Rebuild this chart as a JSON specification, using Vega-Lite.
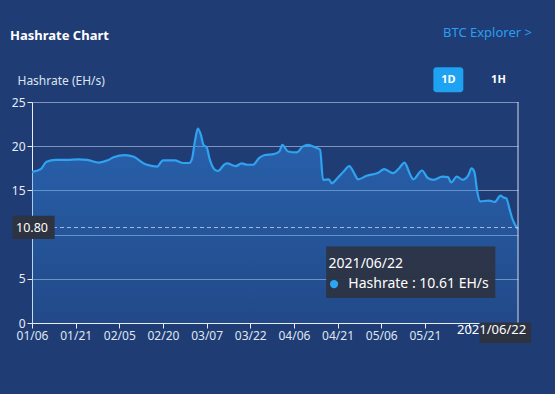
{
  "$schema": "https://vega.github.io/schema/vega-lite/v6.json",
  "autosize": {"type": "none"},
  "width": 486,
  "height": 221,
  "padding": {"left": 32, "top": 102, "right": 37, "bottom": 71},
  "background": "#1f3c75",
  "config": {
    "font": "Noto Sans",
    "view": {"stroke": null}
  },
  "title": {
    "text": "Hashrate Chart",
    "anchor": "start",
    "frame": "group",
    "dx": -22,
    "offset": -16,
    "fontSize": 13,
    "fontWeight": "bold",
    "color": "#ffffff"
  },
  "datasets": {
    "hashrate": [
      {"date": "2021-01-06", "value": 17.1},
      {"date": "2021-01-09", "value": 17.4},
      {"date": "2021-01-11", "value": 18.25},
      {"date": "2021-01-14", "value": 18.45},
      {"date": "2021-01-18", "value": 18.45},
      {"date": "2021-01-22", "value": 18.5},
      {"date": "2021-01-25", "value": 18.45},
      {"date": "2021-01-29", "value": 18.15},
      {"date": "2021-02-01", "value": 18.4},
      {"date": "2021-02-03", "value": 18.75},
      {"date": "2021-02-07", "value": 19.0},
      {"date": "2021-02-10", "value": 18.8},
      {"date": "2021-02-14", "value": 17.95},
      {"date": "2021-02-18", "value": 17.7},
      {"date": "2021-02-20", "value": 18.4},
      {"date": "2021-02-24", "value": 18.4},
      {"date": "2021-02-27", "value": 18.1},
      {"date": "2021-03-01", "value": 18.1},
      {"date": "2021-03-02", "value": 18.6},
      {"date": "2021-03-03", "value": 20.6},
      {"date": "2021-03-04", "value": 22.0},
      {"date": "2021-03-05", "value": 21.3},
      {"date": "2021-03-06", "value": 20.1},
      {"date": "2021-03-07", "value": 19.9},
      {"date": "2021-03-08", "value": 18.6},
      {"date": "2021-03-10", "value": 17.3},
      {"date": "2021-03-11", "value": 17.2},
      {"date": "2021-03-13", "value": 17.9},
      {"date": "2021-03-14", "value": 18.05},
      {"date": "2021-03-17", "value": 17.75},
      {"date": "2021-03-19", "value": 18.05},
      {"date": "2021-03-21", "value": 17.9},
      {"date": "2021-03-23", "value": 17.9},
      {"date": "2021-03-25", "value": 18.65},
      {"date": "2021-03-27", "value": 19.0},
      {"date": "2021-03-30", "value": 19.1},
      {"date": "2021-04-01", "value": 19.4},
      {"date": "2021-04-02", "value": 20.15},
      {"date": "2021-04-04", "value": 19.4},
      {"date": "2021-04-07", "value": 19.3},
      {"date": "2021-04-09", "value": 19.95},
      {"date": "2021-04-11", "value": 20.15},
      {"date": "2021-04-13", "value": 19.9},
      {"date": "2021-04-15", "value": 19.6},
      {"date": "2021-04-16", "value": 16.2},
      {"date": "2021-04-18", "value": 16.25},
      {"date": "2021-04-19", "value": 15.8},
      {"date": "2021-04-21", "value": 16.4},
      {"date": "2021-04-23", "value": 17.1},
      {"date": "2021-04-25", "value": 17.75},
      {"date": "2021-04-27", "value": 16.75},
      {"date": "2021-04-28", "value": 16.25},
      {"date": "2021-05-01", "value": 16.65},
      {"date": "2021-05-05", "value": 17.0},
      {"date": "2021-05-07", "value": 17.4},
      {"date": "2021-05-10", "value": 16.95},
      {"date": "2021-05-12", "value": 17.45},
      {"date": "2021-05-14", "value": 18.15},
      {"date": "2021-05-16", "value": 16.75},
      {"date": "2021-05-17", "value": 16.25},
      {"date": "2021-05-20", "value": 17.25},
      {"date": "2021-05-22", "value": 16.4},
      {"date": "2021-05-24", "value": 16.2},
      {"date": "2021-05-27", "value": 16.55},
      {"date": "2021-05-29", "value": 16.5},
      {"date": "2021-05-30", "value": 15.9},
      {"date": "2021-06-01", "value": 16.55},
      {"date": "2021-06-03", "value": 16.2},
      {"date": "2021-06-05", "value": 16.75},
      {"date": "2021-06-06", "value": 17.5},
      {"date": "2021-06-07", "value": 17.1},
      {"date": "2021-06-08", "value": 14.85},
      {"date": "2021-06-09", "value": 13.75},
      {"date": "2021-06-12", "value": 13.85},
      {"date": "2021-06-14", "value": 13.7},
      {"date": "2021-06-16", "value": 14.4},
      {"date": "2021-06-17", "value": 14.2},
      {"date": "2021-06-18", "value": 14.1},
      {"date": "2021-06-19", "value": 13.0},
      {"date": "2021-06-20", "value": 11.85},
      {"date": "2021-06-21", "value": 11.1},
      {"date": "2021-06-22", "value": 10.61}
    ]
  },
  "layer": [
    {
      "data": {"name": "hashrate"},
      "mark": {
        "type": "area",
        "interpolate": "monotone",
        "color": {
          "gradient": "linear",
          "x1": 0, "y1": 0, "x2": 0, "y2": 1,
          "stops": [
            {"offset": 0, "color": "rgba(50,140,235,0.47)"},
            {"offset": 1, "color": "rgba(50,140,235,0.17)"}
          ]
        }
      },
      "encoding": {
        "x": {
          "field": "date",
          "type": "temporal",
          "scale": {
            "type": "utc",
            "nice": false,
            "domain": [
              {"year": 2021, "month": 1, "date": 6, "utc": true},
              {"year": 2021, "month": 6, "date": 22, "utc": true}
            ]
          },
          "axis": {
            "title": null,
            "zindex": 0,
            "format": "%m/%d",
            "labelExpr": "datum.label == '06/05' ? '' : datum.label",
            "values": [
              {"year": 2021, "month": 1, "date": 6, "utc": true},
              {"year": 2021, "month": 1, "date": 21, "utc": true},
              {"year": 2021, "month": 2, "date": 5, "utc": true},
              {"year": 2021, "month": 2, "date": 20, "utc": true},
              {"year": 2021, "month": 3, "date": 7, "utc": true},
              {"year": 2021, "month": 3, "date": 22, "utc": true},
              {"year": 2021, "month": 4, "date": 6, "utc": true},
              {"year": 2021, "month": 4, "date": 21, "utc": true},
              {"year": 2021, "month": 5, "date": 6, "utc": true},
              {"year": 2021, "month": 5, "date": 21, "utc": true},
              {"year": 2021, "month": 6, "date": 5, "utc": true}
            ],
            "grid": false,
            "domainColor": "#e8edf5",
            "tickColor": "#e8edf5",
            "tickSize": 5,
            "labelColor": "#dfe6f2",
            "labelFontSize": 12,
            "labelPadding": 2,
            "labelFlush": false,
            "labelOverlap": false
          }
        },
        "y": {
          "field": "value",
          "type": "quantitative",
          "scale": {"domain": [0, 25], "nice": false, "zero": true},
          "axis": {
            "zindex": 0,
            "values": [0, 5, 10, 15, 20, 25],
            "labelExpr": "datum.value == 10 ? '' : datum.label",
            "title": "Hashrate (EH/s)",
            "titleAngle": 0,
            "titleX": -15,
            "titleY": -22,
            "titleAlign": "left",
            "titleBaseline": "middle",
            "titleFontWeight": "normal",
            "titleFontSize": 12,
            "titleColor": "#dde4ef",
            "grid": true,
            "gridColor": "#8fa3c9",
            "gridOpacity": 0.85,
            "domainColor": "#e8edf5",
            "tickColor": "#e8edf5",
            "tickSize": 5,
            "labelColor": "#e8edf5",
            "labelFontSize": 12,
            "labelPadding": 2
          }
        }
      }
    },
    {
      "data": {"name": "hashrate"},
      "mark": {"type": "line", "interpolate": "monotone", "color": "#2fa2f0", "strokeWidth": 2.2},
      "encoding": {
        "x": {"field": "date", "type": "temporal"},
        "y": {"field": "value", "type": "quantitative"}
      }
    },
    {
      "data": {"values": [{}]},
      "mark": {"type": "rule", "color": "#a9b9d6", "strokeDash": [4, 3], "strokeWidth": 1},
      "encoding": {
        "x": {"datum": {"year": 2021, "month": 1, "date": 6, "utc": true}, "type": "temporal"},
        "x2": {"datum": {"year": 2021, "month": 6, "date": 22, "utc": true}},
        "y": {"datum": 10.8, "type": "quantitative"}
      }
    },
    {
      "data": {"values": [{}]},
      "mark": {"type": "rule", "color": "#d3dbea", "strokeWidth": 1},
      "encoding": {
        "x": {"datum": {"year": 2021, "month": 6, "date": 22, "utc": true}, "type": "temporal"},
        "y": {"datum": 0, "type": "quantitative"},
        "y2": {"datum": 25}
      }
    },
    {
      "data": {"values": [{}]},
      "mark": {"type": "rect", "color": "#2d3444", "opacity": 0.95},
      "encoding": {
        "x": {"datum": {"year": 2021, "month": 4, "date": 17, "hours": 2, "utc": true}, "type": "temporal"},
        "x2": {"datum": {"year": 2021, "month": 6, "date": 14, "hours": 5, "utc": true}},
        "y": {"datum": 8.65, "type": "quantitative"},
        "y2": {"datum": 2.82}
      }
    },
    {
      "data": {"values": [{}]},
      "mark": {"type": "text", "text": "2021/06/22", "align": "left", "baseline": "middle", "fontSize": 14, "color": "#ffffff"},
      "encoding": {
        "x": {"datum": {"year": 2021, "month": 4, "date": 17, "hours": 22, "utc": true}, "type": "temporal"},
        "y": {"datum": 6.7, "type": "quantitative"}
      }
    },
    {
      "data": {"values": [{}]},
      "mark": {"type": "point", "shape": "circle", "filled": true, "size": 68, "color": "#2ba6f5", "opacity": 1},
      "encoding": {
        "x": {"datum": {"year": 2021, "month": 4, "date": 19, "hours": 19, "utc": true}, "type": "temporal"},
        "y": {"datum": 4.4, "type": "quantitative"}
      }
    },
    {
      "data": {"values": [{}]},
      "mark": {"type": "text", "text": "Hashrate : 10.61 EH/s", "align": "left", "baseline": "middle", "fontSize": 14, "color": "#ffffff"},
      "encoding": {
        "x": {"datum": {"year": 2021, "month": 4, "date": 24, "hours": 17, "utc": true}, "type": "temporal"},
        "y": {"datum": 4.4, "type": "quantitative"}
      }
    },
    {
      "data": {"values": [{}]},
      "mark": {"type": "rect", "color": "#2d3340"},
      "encoding": {
        "x": {"datum": {"year": 2020, "month": 12, "date": 30, "hours": 6, "utc": true}, "type": "temporal"},
        "x2": {"datum": {"year": 2021, "month": 1, "date": 13, "hours": 19, "utc": true}},
        "y": {"datum": 12.12, "type": "quantitative"},
        "y2": {"datum": 9.49}
      }
    },
    {
      "data": {"values": [{}]},
      "mark": {"type": "text", "text": "10.80", "align": "center", "baseline": "middle", "fontSize": 12.5, "color": "#ffffff"},
      "encoding": {
        "x": {"datum": {"year": 2021, "month": 1, "date": 6, "utc": true}, "type": "temporal"},
        "y": {"datum": 10.8, "type": "quantitative"}
      }
    },
    {
      "data": {"values": [{}]},
      "mark": {"type": "rect", "color": "#2d3340"},
      "encoding": {
        "x": {"datum": {"year": 2021, "month": 6, "date": 8, "hours": 19, "utc": true}, "type": "temporal"},
        "x2": {"datum": {"year": 2021, "month": 6, "date": 26, "hours": 12, "utc": true}},
        "y": {"datum": 0.07, "type": "quantitative"},
        "y2": {"datum": -2.26}
      }
    },
    {
      "data": {"values": [{}]},
      "mark": {"type": "text", "text": "2021/06/22", "align": "center", "baseline": "middle", "fontSize": 13, "color": "#ffffff"},
      "encoding": {
        "x": {"datum": {"year": 2021, "month": 6, "date": 12, "hours": 22, "utc": true}, "type": "temporal"},
        "y": {"datum": -0.76, "type": "quantitative"}
      }
    },
    {
      "data": {"values": [{}]},
      "mark": {"type": "text", "text": "BTC Explorer >", "align": "right", "baseline": "middle", "fontSize": 13, "color": "#2a9ff0"},
      "encoding": {
        "x": {"datum": {"year": 2021, "month": 6, "date": 26, "hours": 19, "utc": true}, "type": "temporal"},
        "y": {"datum": 32.8, "type": "quantitative"}
      }
    },
    {
      "data": {"values": [{}]},
      "mark": {"type": "rect", "color": "#1ea3f3", "cornerRadius": 3},
      "encoding": {
        "x": {"datum": {"year": 2021, "month": 5, "date": 23, "hours": 22, "utc": true}, "type": "temporal"},
        "x2": {"datum": {"year": 2021, "month": 6, "date": 3, "hours": 5, "utc": true}},
        "y": {"datum": 28.92, "type": "quantitative"},
        "y2": {"datum": 26.1}
      }
    },
    {
      "data": {"values": [{}]},
      "mark": {"type": "text", "text": "1D", "align": "center", "baseline": "middle", "fontSize": 11, "fontWeight": "bold", "color": "#ffffff"},
      "encoding": {
        "x": {"datum": {"year": 2021, "month": 5, "date": 29, "hours": 2, "utc": true}, "type": "temporal"},
        "y": {"datum": 27.5, "type": "quantitative"}
      }
    },
    {
      "data": {"values": [{}]},
      "mark": {"type": "text", "text": "1H", "align": "center", "baseline": "middle", "fontSize": 11, "fontWeight": "bold", "color": "#ffffff"},
      "encoding": {
        "x": {"datum": {"year": 2021, "month": 6, "date": 15, "hours": 7, "utc": true}, "type": "temporal"},
        "y": {"datum": 27.5, "type": "quantitative"}
      }
    }
  ]
}
